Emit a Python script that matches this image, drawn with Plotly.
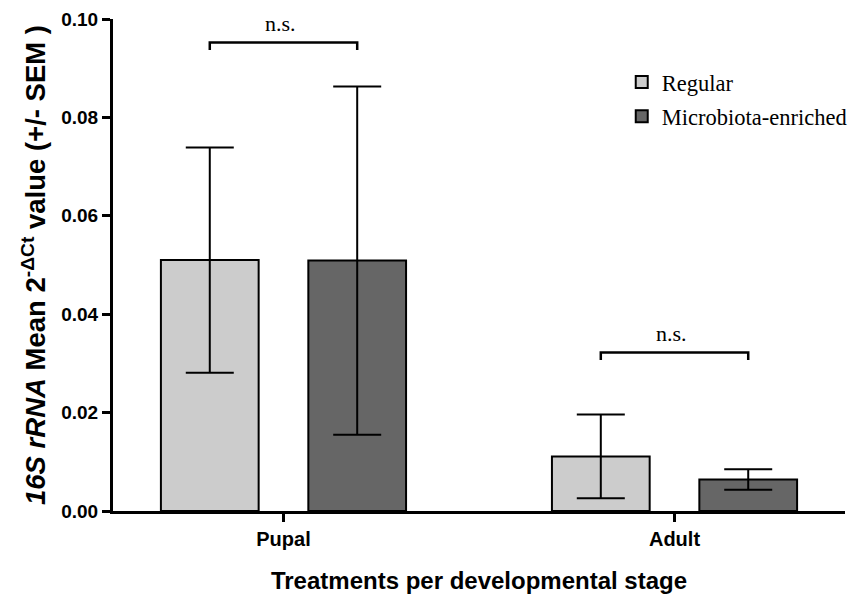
import plotly.graph_objects as go

# ---- data ----
categories = ["Pupal", "Adult"]
series_names = ["Regular", "Microbiota-enriched"]
regular_mean = [0.0510, 0.0111]
regular_sem = [0.0229, 0.0085]
micro_mean = [0.0509, 0.0064]
micro_sem = [0.0354, 0.0021]
sig_labels = ["n.s.", "n.s."]
sig_y = [0.0952, 0.0322]
y_tickvals = [0.00, 0.02, 0.04, 0.06, 0.08, 0.10]
y_ticktext = ["0.00", "0.02", "0.04", "0.06", "0.08", "0.10"]

# ---- styles ----
SANS = "Arial, Liberation Sans, sans-serif"
SERIF = "Times New Roman, Liberation Serif, serif"
BARGAP = 0.246
BARGROUPGAP = 0.337
colors = ["#cccccc", "#666666"]

fig = go.Figure()
for k, (name, mean, sem, col) in enumerate([
    (series_names[0], regular_mean, regular_sem, colors[0]),
    (series_names[1], micro_mean, micro_sem, colors[1]),
]):
    fig.add_trace(go.Bar(
        x=categories, y=mean, name=name, legendgroup=f"g{k}",
        marker=dict(color=col, line=dict(color="black", width=2)),
        error_y=dict(type="data", array=sem, visible=True,
                     color="black", thickness=2, width=24),
    ))

# significance brackets, placed at the grouped bar centres
offset = (1 - BARGAP) / 4
drop = 0.0015
shapes = []
annotations = []
for i, (lab, yb) in enumerate(zip(sig_labels, sig_y)):
    x0, x1 = i - offset, i + offset
    shapes.append(dict(type="path", xref="x", yref="y",
                       path=f"M {x0},{yb - drop} L {x0},{yb} L {x1},{yb} L {x1},{yb - drop}",
                       line=dict(color="black", width=2.5)))
    annotations.append(dict(x=i, y=yb, xref="x", yref="y", text=lab,
                            showarrow=False, yanchor="bottom", yshift=5, xshift=-3,
                            font=dict(family=SERIF, size=22, color="black")))

fig.update_layout(
    width=850, height=599,
    margin=dict(l=113, r=5, t=19, b=88, autoexpand=False),
    paper_bgcolor="white", plot_bgcolor="white",
    barmode="group", bargap=BARGAP, bargroupgap=BARGROUPGAP,
    shapes=shapes, annotations=annotations,
    legend=dict(x=0.695, y=0.915, xanchor="left", yanchor="top",
                font=dict(family=SERIF, size=22.5, color="black"),
                bgcolor="rgba(0,0,0,0)", tracegroupgap=2),
    font=dict(family=SANS, color="black"),
)
fig.update_xaxes(
    range=[-0.436, 1.436], showline=True, linecolor="black", linewidth=3,
    ticks="outside", ticklen=8, tickwidth=2.5, tickcolor="black",
    showgrid=False, zeroline=False, automargin=False,
    tickvals=categories, ticktext=[f"<b>{c}</b>" for c in categories],
    tickfont=dict(family=SANS, size=20, color="black"),
    title=dict(text="<b>Treatments per developmental stage</b>",
               font=dict(family=SANS, size=24, color="black"), standoff=24),
)
fig.update_yaxes(
    range=[0, 0.1], tickvals=y_tickvals, ticktext=[f"<b>{t}</b>" for t in y_ticktext],
    showline=True, linecolor="black", linewidth=3,
    ticks="outside", ticklen=8, tickwidth=2.5, tickcolor="black",
    showgrid=False, zeroline=False, automargin=False,
    tickfont=dict(family=SANS, size=19, color="black"),
    title=dict(text="<b><i>16S rRNA</i> Mean 2<sup>-ΔCt</sup> value (+/- SEM )</b>",
               font=dict(family=SANS, size=27.5, color="black"), standoff=8),
)

fig.write_html("out.html")
